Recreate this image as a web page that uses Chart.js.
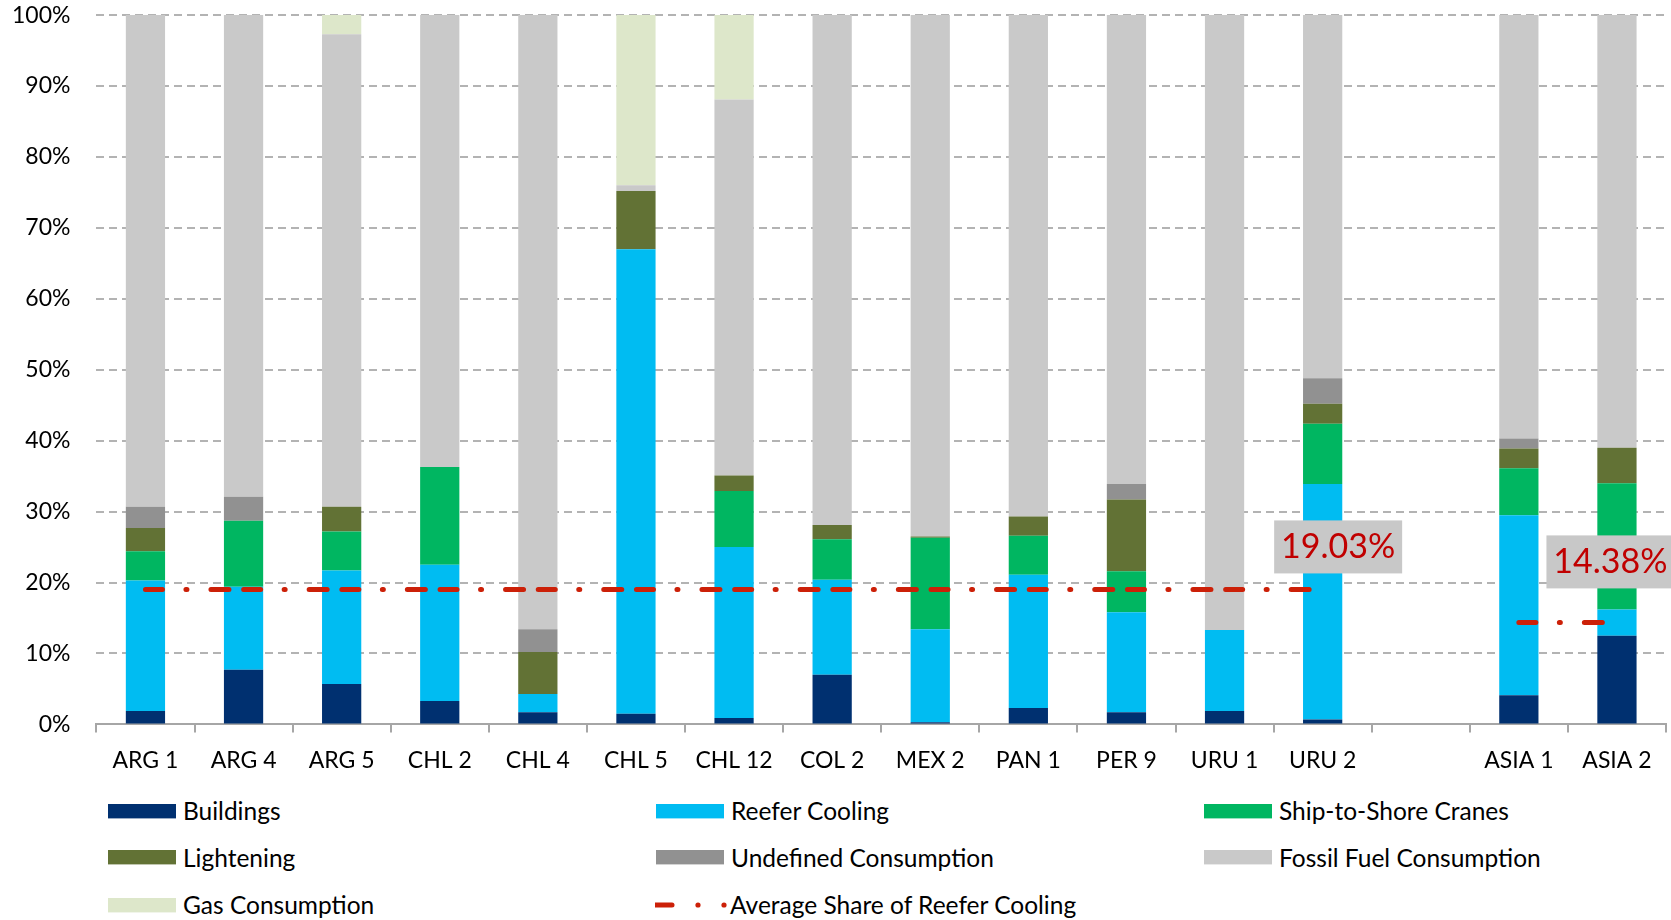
<!DOCTYPE html>
<html>
<head>
<meta charset="utf-8">
<script src="https://cdn.jsdelivr.net/npm/chart.js"></script>
<style>
  body { margin: 0; background: #fff; }
  #wrap { position: relative; width: 1671px; height: 920px; overflow: hidden; }
  #chart { position: absolute; left: 0; top: 0; }
  .item { position: absolute; display: flex; align-items: center; height: 30px;
          font: 24.5px Lato, "Liberation Sans", sans-serif; color: #000; white-space: nowrap; }
  .item svg { flex: none; }
</style>
</head>
<body>
<div id="wrap">
  <canvas id="chart" width="1671" height="780"></canvas>
</div>
<script>
// terminals, one slot left empty between Latin America and Asia
const categories = ['ARG 1', 'ARG 4', 'ARG 5', 'CHL 2', 'CHL 4', 'CHL 5', 'CHL 12', 'COL 2',
  'MEX 2', 'PAN 1', 'PER 9', 'URU 1', 'URU 2', '', 'ASIA 1', 'ASIA 2'];

// shares in %
const buildings  = [1.9, 7.7, 5.7, 3.3, 1.7, 1.5, 0.9, 7.0, 0.3, 2.3, 1.7, 1.9, 0.7, null, 4.1, 12.5];
const reefer     = [18.4, 11.7, 16.0, 19.2, 2.6, 65.5, 24.1, 13.4, 13.1, 18.8, 14.1, 11.4, 33.2, null, 25.4, 3.7];
const cranes     = [4.1, 9.3, 5.5, 13.8, 0, 0, 7.9, 5.7, 12.9, 5.5, 5.8, 0, 8.5, null, 6.6, 17.8];
const lightening = [3.3, 0, 3.5, 0, 5.9, 8.2, 2.2, 2.0, 0.2, 2.7, 10.1, 0, 2.8, null, 2.8, 5.0];
const undefinedC = [3.0, 3.4, 0, 0, 3.2, 0, 0, 0, 0, 0, 2.2, 0, 3.6, null, 1.4, 0];
const fossil     = [69.3, 67.9, 66.6, 63.7, 86.6, 0.8, 53.0, 71.9, 73.5, 70.7, 66.1, 86.7, 51.2, null, 59.7, 61.0];
const gas        = [0, 0, 2.7, 0, 0, 24.0, 11.9, 0, 0, 0, 0, 0, 0, null, 0, 0];

const avgLatam = 19.03;
const avgAsia = 14.38;
const avgLatamLine = categories.map((c, i) => i <= 12 ? avgLatam : null);
const avgAsiaLine = categories.map(c => c.startsWith('ASIA') ? avgAsia : null);

const yTicks = [0, 10, 20, 30, 40, 50, 60, 70, 80, 90, 100];

const FONT = 'Lato, "Liberation Sans", sans-serif';
const RED = '#CC2008';

Chart.defaults.font.family = FONT;
Chart.defaults.font.size = 23;
Chart.defaults.color = '#000';

function bar(label, data, color) {
  return { type: 'bar', label, data, backgroundColor: color, borderWidth: 0, stack: 'bars', order: 2 };
}

function avgLine(label, data, legend) {
  return {
    type: 'line', label, data, stack: label, order: 0,
    borderColor: RED, backgroundColor: RED, borderWidth: 5,
    borderDash: [17, 23.5, 1, 24, 18, 14.7], borderCapStyle: 'round',
    pointRadius: 0, fill: false, spanGaps: false, inLegend: legend
  };
}

// grey boxes with the average values
const avgBoxes = [
  { index: 12, value: avgLatam, dx: 15.5, dy: -43 },
  { index: 15, value: avgAsia, dx: -6.5, dy: -61 }
];

const avgLabels = {
  id: 'avgLabels',
  afterDatasetsDraw(chart) {
    const { ctx, scales: { x, y } } = chart;
    avgBoxes.forEach(b => {
      const cx = x.getPixelForValue(b.index) + b.dx;
      const cy = y.getPixelForValue(b.value) + b.dy;
      ctx.save();
      ctx.fillStyle = '#C8C8C8';
      ctx.fillRect(cx - 64, cy - 26, 128, 53);
      ctx.fillStyle = '#C00000';
      ctx.font = '34px ' + FONT;
      ctx.textAlign = 'center';
      ctx.textBaseline = 'middle';
      ctx.fillText(b.value.toFixed(2) + '%', cx, cy + 1);
      ctx.restore();
    });
  }
};

function noPad(s) {
  s.paddingTop = 0; s.paddingBottom = 0; s.paddingLeft = 0; s.paddingRight = 0;
}

const chart = new Chart(document.getElementById('chart'), {
  data: {
    labels: categories,
    datasets: [
      bar('Buildings', buildings, '#003070'),
      bar('Reefer Cooling', reefer, '#00BCF2'),
      bar('Ship-to-Shore Cranes', cranes, '#00B661'),
      bar('Lightening', lightening, '#627235'),
      bar('Undefined Consumption', undefinedC, '#919191'),
      bar('Fossil Fuel Consumption', fossil, '#C9C9C9'),
      bar('Gas Consumption', gas, '#DDE7CA'),
      avgLine('Average Share of Reefer Cooling', avgLatamLine, true),
      avgLine('Average Share of Reefer Cooling (Asia)', avgAsiaLine, false)
    ]
  },
  options: {
    responsive: false,
    animation: false,
    layout: { padding: { top: 15.1, right: 5, bottom: 3.6, left: 0 } },
    datasets: { bar: { barPercentage: 0.4, categoryPercentage: 1 } },
    plugins: { legend: { display: false }, tooltip: { enabled: false } },
    scales: {
      x: {
        stacked: true,
        afterFit: s => { s.height = 52; noPad(s); },
        grid: { offset: true, drawOnChartArea: false, drawTicks: true, tickLength: 8, color: '#A6A6A6', lineWidth: 2 },
        border: { display: true, color: '#A6A6A6', width: 2 },
        ticks: { padding: 14, maxRotation: 0, autoSkip: false }
      },
      y: {
        stacked: true,
        min: 0,
        max: 100,
        afterFit: s => { s.width = 96.4; noPad(s); },
        afterBuildTicks: s => { s.ticks = yTicks.map(v => ({ value: v })); },
        grid: {
          drawTicks: false,
          lineWidth: 2,
          color: c => c.tick && c.tick.value === 0 ? 'rgba(0,0,0,0)' : '#B3B3B3'
        },
        border: { display: false, dash: [8, 5] },
        ticks: { padding: 26, callback: v => v + '%' }
      }
    }
  },
  plugins: [avgLabels]
});

// legend in three fixed columns, built from the chart's datasets
const legendCols = [108, 656, 1204];
const legendRows = [810.5, 857, 904.5];
const wrap = document.getElementById('wrap');
const NS = 'http://www.w3.org/2000/svg';

chart.data.datasets.filter(d => d.type === 'bar' || d.inLegend).forEach((ds, i) => {
  const item = document.createElement('div');
  item.className = 'item';
  item.style.left = legendCols[i % 3] + 'px';
  item.style.top = (legendRows[Math.floor(i / 3)] - 15) + 'px';

  const svg = document.createElementNS(NS, 'svg');
  svg.setAttribute('width', 75);
  svg.setAttribute('height', 30);
  if (ds.type === 'bar') {
    const r = document.createElementNS(NS, 'rect');
    r.setAttribute('x', 0); r.setAttribute('y', 8);
    r.setAttribute('width', 68); r.setAttribute('height', 14.4);
    r.setAttribute('fill', ds.backgroundColor);
    svg.appendChild(r);
  } else {
    const l = document.createElementNS(NS, 'line');
    l.setAttribute('x1', 0); l.setAttribute('x2', 17);
    l.setAttribute('y1', 15); l.setAttribute('y2', 15);
    l.setAttribute('stroke', ds.borderColor);
    l.setAttribute('stroke-width', 5);
    l.setAttribute('stroke-linecap', 'round');
    svg.appendChild(l);
    [43, 69].forEach(cx => {
      const c = document.createElementNS(NS, 'circle');
      c.setAttribute('cx', cx); c.setAttribute('cy', 15); c.setAttribute('r', 2.6);
      c.setAttribute('fill', ds.borderColor);
      svg.appendChild(c);
    });
    item.style.left = (legendCols[i % 3] - 1) + 'px';
  }
  item.appendChild(svg);

  const txt = document.createElement('span');
  txt.textContent = ds.label;
  item.appendChild(txt);
  wrap.appendChild(item);
});
</script>
</body>
</html>
